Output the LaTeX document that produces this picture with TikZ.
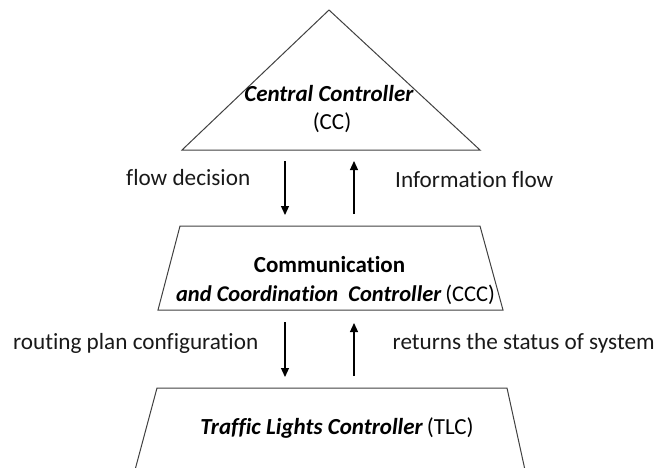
\documentclass[tikz,border=0pt]{standalone}
\usepackage{fontspec}
\setmainfont{Carlito}[Ligatures=NoCommon]
\usetikzlibrary{arrows.meta}
\begin{document}
\begin{tikzpicture}[x=1pt,y=-1pt,
  shapeline/.style={draw=black!75,line width=1pt},
  flowarrow/.style={draw=black,line width=1.2pt,-{Triangle[length=9pt,width=8pt]}},
  lbl/.style={inner sep=0pt,font=\fontsize{23.2}{28}\selectfont,text=black!90},
  title/.style={inner sep=0pt,font=\fontsize{23}{28}\selectfont,text=black}]
\useasboundingbox (0,0) rectangle (666,467);
% shapes
\coordinate (ta) at (329,10);
\coordinate (tl) at (182,150);
\coordinate (tr) at (480,150);
\draw[shapeline] (ta) -- (tl) -- (tr) -- cycle;
\coordinate (m1) at (180,226);
\coordinate (m2) at (480,226);
\coordinate (m3) at (503,310);
\coordinate (m4) at (158,310);
\draw[shapeline] (m1) -- (m2) -- (m3) -- (m4) -- cycle;
\begin{scope}
\clip (0,0) rectangle (666,467);
\coordinate (b1) at (157,388);
\coordinate (b2) at (507,388);
\coordinate (b3) at (525,470);
\coordinate (b4) at (135,470);
\draw[shapeline] (b4) -- (b1) -- (b2) -- (b3);
\end{scope}
% texts in shapes
\node[title,anchor=base] (cc1) at (329,101.5) {\textbf{\textit{Central Controller}}};
\node[title,anchor=base] (cc2) at (332,129) {(CC)};
\node[title,anchor=base] (ccc1) at (329.5,272.5) {\textbf{Communication}};
\node[title,anchor=base,font=\fontsize{22.5}{27}\selectfont] (ccc2) at (335.5,301.5) {\textbf{\textit{and Coordination\hspace{0.45em}Controller}}\,(CCC)};
\node[title,anchor=base] (tlc) at (337,434.5) {\textbf{\textit{Traffic Lights Controller}}\,(TLC)};
% arrows
\coordinate (d1s) at (285,161);
\coordinate (d1e) at (285,215);
\coordinate (u1s) at (354,214);
\coordinate (u1e) at (354,161);
\coordinate (d2s) at (285,322);
\coordinate (d2e) at (285,377);
\coordinate (u2s) at (354,376);
\coordinate (u2e) at (354,323);
\draw[flowarrow] (d1s) -- (d1e);
\draw[flowarrow] (u1s) -- (u1e);
\draw[flowarrow] (d2s) -- (d2e);
\draw[flowarrow] (u2s) -- (u2e);
% labels
\node[lbl,anchor=base west] (fd) at (126,185) {flow decision};
\node[lbl,anchor=base west] (inf) at (395,187) {Information flow};
\node[lbl,anchor=base west] (rpc) at (13,349) {routing plan configuration};
\node[lbl,anchor=base west] (rss) at (392.5,349) {returns the status of system};
\end{tikzpicture}
\end{document}
